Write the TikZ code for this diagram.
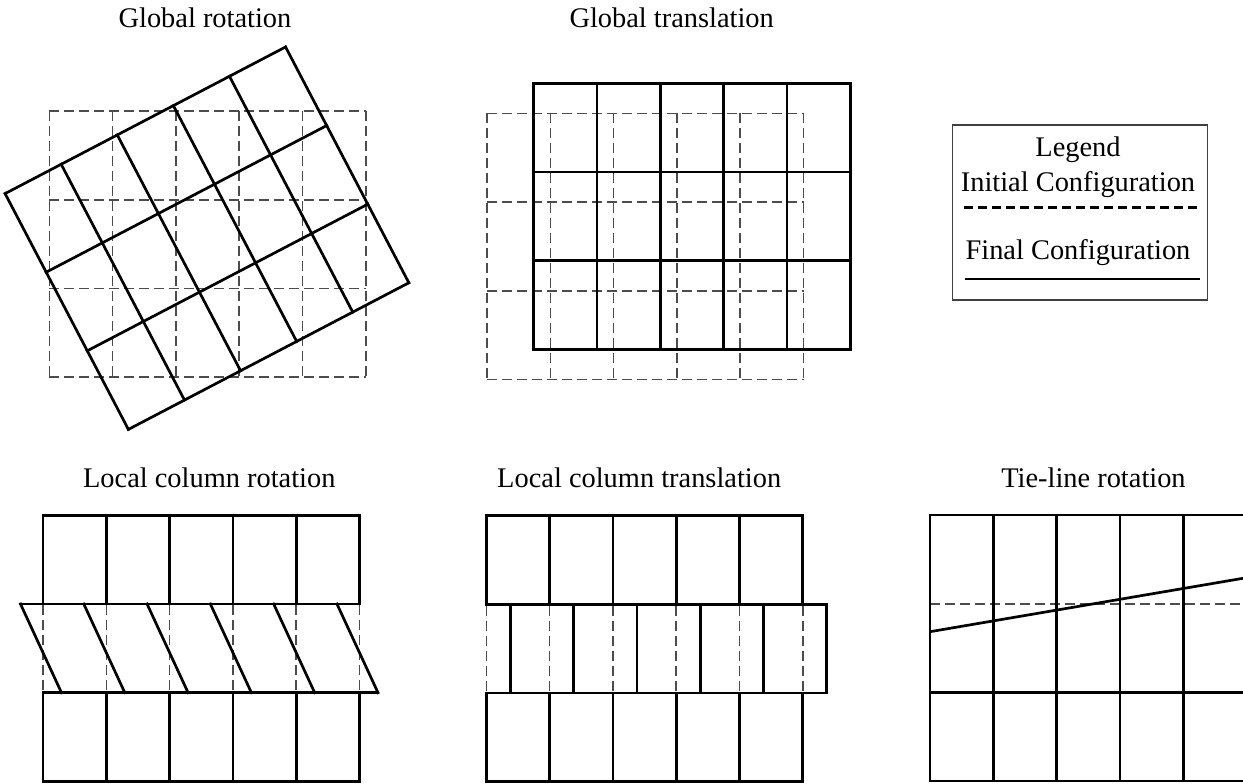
\documentclass[tikz,border=0pt]{standalone}
\usepackage{fontspec}
\setmainfont{Liberation Serif}

\definecolor{initgray}{gray}{0.3}

\newcommand{\cellw}{63.3}
\newcommand{\cellh}{88.7}
% grid of #2 columns and #3 rows, top left corner at the origin
\newcommand{\cellgrid}[3]{%
  \foreach \col in {0,...,#2} \draw[#1] (\col*\cellw,0) -- (\col*\cellw,#3*\cellh);
  \foreach \row in {0,...,#3} \draw[#1] (0,\row*\cellh) -- (#2*\cellw,\row*\cellh);
}

\begin{document}
\begin{tikzpicture}[x=1pt, y=-1pt,
    font=\fontsize{28.4}{34}\selectfont,
    initial/.style={draw=initgray, line width=1.6pt, dash pattern=on 10pt off 5pt},
    final/.style={draw=black, line width=2.7pt, line cap=rect},
    title/.style={anchor=base, inner sep=0pt},
    legendbox/.style={draw=black!75, line width=1.2pt, minimum width=255pt, minimum height=175pt}
]
\useasboundingbox (0,0) rectangle (1243,784);
\clip (0,0) rectangle (1243,784);

% Titles
\node[title] (grot) at (205,27.5) {Global rotation};
\node[title] (gtrans) at (671.7,27.5) {Global translation};
\node[title] (lcrot) at (209.3,487) {Local column rotation};
\node[title] (lctrans) at (639.2,487) {Local column translation};
\node[title] (tlrot) at (1093.5,487) {Tie-line rotation};

% Global rotation
\begin{scope}[shift={(49.3,111)}]
  \cellgrid{initial}{5}{3}
\end{scope}
\begin{scope}[shift={(5.1,193.6)}, rotate=27.6]
  \cellgrid{final}{5}{3}
\end{scope}

% Global translation
\begin{scope}[shift={(487,113.3)}]
  \cellgrid{initial}{5}{3}
\end{scope}
\begin{scope}[shift={(533.7,83.3)}]
  \cellgrid{final}{5}{3}
\end{scope}

% Legend
\node[legendbox] (legend) at (1080,212.5) {};
\node[title] (legendhead) at (1078,156) {Legend};
\node[title] (initlabel) at (1078,191.7) {Initial Configuration};
\draw[line width=2.5pt, dash pattern=on 9pt off 5pt] (964,207.7) -- (1199,207.7);
\node[title] (finallabel) at (1078,259.3) {Final Configuration};
\draw[line width=2.5pt] (965,279) -- (1200,279);

% Local column rotation
\begin{scope}[shift={(43,515.3)}]
  \cellgrid{initial}{5}{3}
  \cellgrid{final}{5}{1}
  \begin{scope}[shift={(0,2*\cellh)}]
    \cellgrid{final}{5}{1}
  \end{scope}
  \draw[final] (-22.5,\cellh) -- (5*\cellw,\cellh);
  \draw[final] (0,2*\cellh) -- (5*\cellw+18.5,2*\cellh);
  \foreach \col in {0,...,5}
    \draw[final] (\col*\cellw-22.5,\cellh) -- (\col*\cellw+18.5,2*\cellh);
\end{scope}

% Local column translation
\begin{scope}[shift={(486.3,515.7)}]
  \cellgrid{initial}{5}{3}
  \cellgrid{final}{5}{1}
  \begin{scope}[shift={(24,\cellh)}]
    \cellgrid{final}{5}{1}
  \end{scope}
  \begin{scope}[shift={(0,2*\cellh)}]
    \cellgrid{final}{5}{1}
  \end{scope}
\end{scope}

% Tie-line rotation
\begin{scope}[shift={(930,515)}]
  \draw[initial] (0,\cellh) -- (5*\cellw,\cellh);
  \foreach \col in {0,...,5}
    \draw[final] (\col*\cellw,0) -- (\col*\cellw,3*\cellh);
  \foreach \row in {0,2,3}
    \draw[final] (0,\row*\cellh) -- (5*\cellw,\row*\cellh);
  \draw[final, line cap=butt] (0,116.7) -- (5*\cellw,62.7);
\end{scope}

\end{tikzpicture}
\end{document}
